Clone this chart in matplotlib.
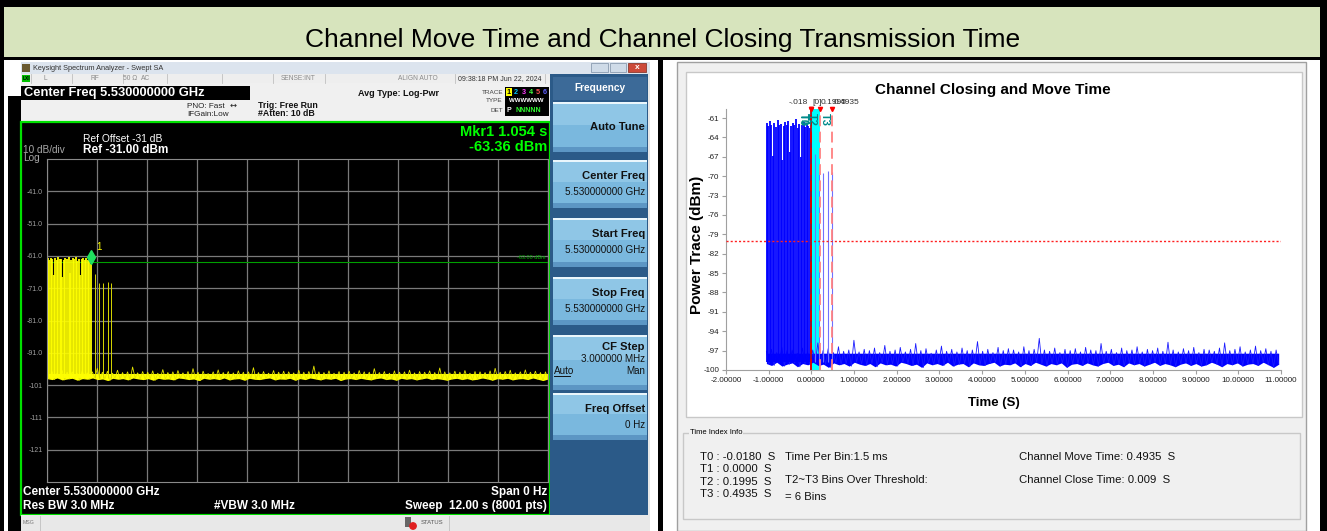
import numpy as np
import matplotlib
matplotlib.use("Agg")
import matplotlib.pyplot as plt
from matplotlib.patches import Rectangle, Circle
from matplotlib import transforms

W, H = 1327, 531
SANS = ['Liberation Sans', 'DejaVu Sans']

# ---------------- data (sweep time in s, level in dBm) ----------------
sweep_s = 12.0
t1_sweep = 1.054          # marker 1 / T1 position in analyzer sweep time
mkr_level = -63.36
display_line = -63.0
threshold = -80.0
floor_level = -98.8
core_top = -97.4          # upper edge of the solid part of the noise floor

pulse_t = [0.012, 0.048, 0.085, 0.118, 0.156, 0.190, 0.228, 0.262, 0.300, 0.335,
           0.371, 0.405, 0.442, 0.478, 0.515, 0.550, 0.586, 0.622, 0.657, 0.694,
           0.730, 0.765, 0.801, 0.838, 0.872, 0.909, 0.945, 0.980, 1.017, 1.050]
pulse_top = [-61.8, -62.3, -61.5, -62.0, -66.8, -61.7, -62.4, -61.3, -62.1, -61.9,
             -67.5, -62.2, -61.6, -62.0, -61.4, -66.3, -62.3, -61.8, -62.0, -61.2,
             -62.5, -61.9, -67.0, -62.1, -61.6, -62.4, -61.8, -62.2, -62.6, -63.4]
late_t = [1.15, 1.24, 1.33, 1.45, 1.54]
late_top = [-66.5, -69.3, -69.5, -69.2, -69.4]

noise_hi = [-97.1, -96.8, -97.3, -96.5, -97.0, -96.9, -97.4, -96.6, -97.2, -96.9,
            -95.8, -97.0, -96.7, -97.3, -96.4, -97.1, -96.9, -95.4, -97.2, -96.8,
            -97.0, -96.6, -97.3, -96.2, -97.1, -96.9, -96.5, -97.2, -96.8, -95.9,
            -97.0, -96.7, -97.4, -96.9, -96.3, -97.1, -96.8, -97.2, -96.6, -97.0,
            -96.9, -95.6, -97.1, -96.8, -97.3, -96.5, -97.0, -96.7, -96.9, -97.2,
            -96.4, -97.0, -96.8, -95.1, -96.9, -97.1, -96.6, -97.3, -96.8, -97.0,
            -96.7, -97.2, -96.5, -96.9, -97.0, -95.9, -97.1, -96.8, -97.3, -96.6,
            -97.0, -96.9, -96.4, -97.2, -96.8, -97.0, -96.6, -97.1, -95.7, -96.9,
            -97.2, -96.7, -97.0, -96.5, -97.3, -96.8, -96.9, -97.1, -96.6, -95.8,
            -97.0, -96.8, -96.4, -97.2, -96.9, -96.3, -97.0, -96.7, -97.1, -96.9]
noise_lo = [-99.0, -99.3, -98.8, -99.4, -99.1, -98.9, -99.5, -99.0, -99.2, -98.8,
            -99.3, -99.1, -99.6, -98.9, -99.2, -99.0, -99.4, -98.8, -99.1, -99.3,
            -99.0, -99.5, -98.9, -99.2, -99.1, -99.4, -98.8, -99.0, -99.3, -99.1,
            -99.6, -98.9, -99.2, -99.0, -99.3, -98.8, -99.4, -99.1, -99.0, -99.5,
            -98.9, -99.2, -99.3, -99.0, -98.8, -99.4, -99.1, -99.2, -98.9, -99.5,
            -99.0, -99.3, -98.8, -99.1, -99.4, -99.0, -99.2, -98.9, -99.6, -99.1,
            -99.0, -99.3, -98.9, -99.2, -99.4, -99.0, -98.8, -99.3, -99.1, -99.5,
            -98.9, -99.2, -99.0, -99.4, -99.1, -98.8, -99.3, -99.0, -99.2, -99.5,
            -99.1, -98.9, -99.3, -99.0, -99.4, -99.2, -98.8, -99.1, -99.5, -99.0,
            -99.2, -98.9, -99.4, -99.1, -99.0, -99.3, -98.8, -99.2, -99.6, -99.1]

t_names = ['T0', 'T1', 'T2', 'T3']
t_vals = [-0.018, 0.0, 0.1995, 0.4935]
t_tags = ['-.018', '[0]', '0.1995', '0.4935']

spa_yticks = [-41, -51, -61, -71, -81, -91, -101, -111, -121]
spa_ylabels = ['-41.0', '-51.0', '-61.0', '-71.0', '-81.0', '-91.0', '-101', '-111', '-121']
chart_yticks = list(range(-61, -101, -3))
chart_xticks = list(range(-2, 12))

softkeys = [('Auto Tune', ''), ('Center Freq', '5.530000000 GHz'),
            ('Start Freq', '5.530000000 GHz'), ('Stop Freq', '5.530000000 GHz'),
            ('CF Step', '3.000000 MHz'), ('Freq Offset', '0 Hz')]

info_t = ['T0 : -0.0180  S', 'T1 : 0.0000  S', 'T2 : 0.1995  S', 'T3 : 0.4935  S']
info_mid = ['Time Per Bin:1.5 ms', 'T2~T3 Bins Over Threshold:', '= 6 Bins']
info_right = ['Channel Move Time: 0.4935  S', 'Channel Close Time: 0.009  S']

noise_t = np.linspace(0, sweep_s, len(noise_hi))
noise_core = np.minimum(noise_hi, core_top)
# the trace swings between the upper and lower readings, sample by sample
trace_t = np.linspace(0, sweep_s, 2 * len(noise_hi))
trace_v = np.column_stack([noise_hi, noise_lo]).ravel()

# ---------------- figure + pixel-space background ----------------
fig = plt.figure(figsize=(W / 100, H / 100), dpi=100)
bg = fig.add_axes([0, 0, 1, 1])
bg.set_xlim(0, W)
bg.set_ylim(H, 0)
bg.axis('off')


def box(x0, y0, x1, y1, fc, ec='none', lw=0, z=1):
    bg.add_patch(Rectangle((x0, y0), x1 - x0, y1 - y0, facecolor=fc,
                           edgecolor=ec, linewidth=lw, zorder=z))


def put(x, y, s, size, color='black', weight='normal', ha='left', family=SANS, **kw):
    bg.text(x, y, s, fontsize=size, color=color, fontweight=weight, ha=ha,
            va='center', family=family, zorder=5, **kw)


def px_axes(x0, y0, x1, y1):
    return fig.add_axes([x0 / W, 1 - y1 / H, (x1 - x0) / W, (y1 - y0) / H])


def draw_trace(ax, dt, color, edge_color):
    ax.fill_between(noise_t - dt, noise_lo, noise_core, color=color, lw=0, zorder=2)
    ax.plot(trace_t - dt, trace_v, color=edge_color, lw=0.6, zorder=2)
    ax.vlines(np.array(pulse_t) - dt, floor_level, pulse_top, color=color, lw=1.3, zorder=2)


# table frame and header
box(0, 0, W, 7, 'black')
box(0, 0, 4, H, 'black')
box(1320, 0, W, H, 'black')
box(4, 7, 1320, 57, '#d7e4bd')
box(0, 57, W, 60, 'black')
box(658, 57, 663, H, 'black')
put(663, 40, 'Channel Move Time and Channel Closing Transmission Time', 19, ha='center')

# ---------------- left: analyzer screenshot ----------------
box(8, 96, 21, H, 'black')
box(21, 62, 650, 74, '#dce4ee')
box(22, 64, 30, 72, '#6a5a30')
put(33, 68, 'Keysight Spectrum Analyzer - Swept SA', 5.3, '#333333')
box(591, 63, 608, 72, '#cfdbe8', ec='#8a9bb0', lw=0.6)
box(610, 63, 626, 72, '#cfdbe8', ec='#8a9bb0', lw=0.6)
box(628, 63, 646, 72, '#cc4a3a', ec='#8a3a30', lw=0.6)
put(637, 67.5, 'x', 6, 'white', 'bold', ha='center')

box(21, 74, 550, 83, '#eeeeee')
for xs in [31, 72, 123, 167, 222, 273, 325, 455, 545]:
    bg.plot([xs, xs], [74, 83], color='#c0c0c0', lw=0.6, zorder=2)
box(22, 75, 30, 82, '#00c000')
put(26, 78.5, 'LXI', 3.5, 'black', 'bold', ha='center')
for s, xs in [('L', 45), ('RF', 95), ('50 Ω', 130), ('AC', 146),
              ('SENSE:INT', 298), ('ALIGN AUTO', 418)]:
    put(xs, 78.5, s, 4.8, '#8a8a8a', ha='center')
put(500, 78.5, '09:38:18 PM Jun 22, 2024', 5, '#333333', ha='center')

box(21, 83, 550, 122, '#f0f0f0')
box(21, 86, 250, 100, 'black')
put(24, 93, 'Center Freq 5.530000000 GHz', 9.3, 'white', 'bold')
put(187, 106, 'PNO: Fast', 5.9, '#222222')
put(230, 105.5, '↔', 6, '#222222', family=['DejaVu Sans'])
put(187, 114.5, 'IFGain:Low', 5.9, '#222222')
put(258, 105, 'Trig: Free Run', 6.3, '#111111', 'bold')
put(258, 114, '#Atten: 10 dB', 6.3, '#111111', 'bold')
put(358, 93, 'Avg Type: Log-Pwr', 6.5, '#111111', 'bold')
put(503, 92, 'TRACE', 4.6, '#444444', ha='right')
put(503, 101, 'TYPE', 4.6, '#444444', ha='right')
put(503, 110, 'DET', 4.6, '#444444', ha='right')
box(505, 87, 549, 116, 'black')
box(506, 88, 512, 96, '#ffff00')
for i, c in enumerate(['black', '#00c8ff', '#ff40ff', '#40ff40', '#ff5050', '#6060ff']):
    put(509 + i * 7.2, 92, str(i + 1), 5.2, c, 'bold', ha='center')
put(509, 101, 'WWWWWW', 4.4, 'white', 'bold')
put(509, 110, 'P', 5, 'white', 'bold', ha='center')
put(516, 110, 'NNNNN', 5, '#30ff30', 'bold')

# display panel
box(21, 122, 550, 515, 'black', ec='#00e000', lw=1.6)
put(83, 139, 'Ref Offset -31 dB', 7.4, 'white')
put(23, 150, '10 dB/div', 7.2, '#a8a8a8')
put(83, 150, 'Ref -31.00 dBm', 8.5, 'white', 'bold')
put(23, 158, 'Log', 7.2, '#a8a8a8')
put(547, 132, 'Mkr1 1.054 s', 10.5, '#00ff00', 'bold', ha='right')
put(547, 147, '-63.36 dBm', 10.5, '#00ff00', 'bold', ha='right')
put(23, 492, 'Center 5.530000000 GHz', 8.5, 'white', 'bold')
put(23, 506, 'Res BW 3.0 MHz', 8.5, 'white', 'bold')
put(214, 506, '#VBW 3.0 MHz', 8.5, 'white', 'bold')
put(547, 492, 'Span 0 Hz', 8.5, 'white', 'bold', ha='right')
put(547, 506, 'Sweep  12.00 s (8001 pts)', 8.5, 'white', 'bold', ha='right')

# softkeys
box(550, 74, 650, 515, '#2b5a88')
box(648, 74, 650, 515, '#e8e8e8')
box(553, 77, 647, 100, '#3c6a98')
put(600, 88, 'Frequency', 7.3, 'white', 'bold', ha='center')
key_rows = [(102, 152), (160, 208), (218, 267), (277, 325), (335, 390), (393, 440)]
for (title, val), (y0, y1) in zip(softkeys, key_rows):
    box(553, y0, 647, y1, '#7ab8de')
    box(553, y0 + 2, 647, y0 + (y1 - y0) * 0.45, '#8fc6e6')
    box(553, y0, 647, y0 + 2, '#eaf6fc')
    box(553, y1 - 5, 647, y1, '#5c96c4')
    if val == '':
        put(645, (y0 + y1) / 2, title, 8.1, '#111111', 'bold', ha='right')
    elif title == 'CF Step':
        put(645, y0 + 12, title, 8.1, '#111111', 'bold', ha='right')
        put(645, y0 + 24, val, 7.1, '#111111', ha='right')
        put(554, y0 + 36, 'Auto', 7.1, '#111111')
        bg.plot([554, 570], [y0 + 41, y0 + 41], color='#111111', lw=0.7, zorder=5)
        put(645, y0 + 36, 'Man', 7.1, '#111111', ha='right')
    else:
        put(645, y0 + 16, title, 8.1, '#111111', 'bold', ha='right')
        put(645, y0 + 32, val, 7.1, '#111111', ha='right')

# message bar
box(21, 515, 650, H, '#e8e8e8')
put(23, 523, 'MSG', 3.8, '#777777')
bg.plot([40, 40], [516, H], color='#c0c0c0', lw=0.6, zorder=2)
box(405, 517, 411, 527, '#666666')
bg.add_patch(Circle((413, 526), 3.2, color='#e02020', zorder=3))
put(421, 523, 'STATUS', 4.3, '#555555')
bg.plot([449, 449], [516, H], color='#c0c0c0', lw=0.6, zorder=2)

# graticule
ax1 = px_axes(47, 159, 548, 482)
ax1.set_facecolor('black')
ax1.set_xlim(0, sweep_s)
ax1.set_ylim(-131, -31)
ax1.set_xticks(np.arange(0, sweep_s + 0.01, sweep_s / 10))
ax1.set_xticklabels([])
ax1.set_yticks(spa_yticks)
ax1.set_yticklabels(spa_ylabels)
ax1.tick_params(length=0, labelsize=5, labelcolor='#a0a0a0', pad=3)
for lab in ax1.get_yticklabels():
    lab.set_family(SANS)
ax1.grid(True, color='#7a7a7a', lw=0.9)
for sp in ax1.spines.values():
    sp.set_color('#8a8a8a')
ax1.axhline(display_line, color='#00a000', lw=0.8)
ax1.text(0.995, display_line + 0.6, '-63.00 dBm',
         transform=transforms.blended_transform_factory(ax1.transAxes, ax1.transData),
         ha='right', va='bottom', fontsize=4, color='#00b000', family=SANS)
draw_trace(ax1, 0.0, '#ffff00', '#e6e600')
ax1.vlines(late_t, floor_level, late_top, color='#d8d800', lw=0.7)
mk = transforms.offset_copy(ax1.transData, fig, y=7, units='dots')
ax1.plot(t1_sweep, mkr_level, marker='d', ms=7, color='#20e060', transform=mk, clip_on=False)
ax1.text(t1_sweep, mkr_level, '1',
         transform=transforms.offset_copy(ax1.transData, fig, x=5, y=14, units='dots'),
         color='#ffff00', fontsize=7, family=SANS)

# ---------------- right: analysis window ----------------
box(677, 62, 1306, H, '#f0f0f0', ec='#a0a0a0', lw=1)
box(686, 72, 1302, 417, 'white', ec='#c8c8c8', lw=1)
box(683, 433, 1300, 519, 'none', ec='#c8c8c8', lw=1, z=2)
bg.text(690, 433, 'Time Index Info', fontsize=5.5, family=SANS, va='center', zorder=5,
        bbox=dict(facecolor='#f0f0f0', edgecolor='none', pad=0.5))

put(993, 90, 'Channel Closing and Move Time', 11, 'black', 'bold', ha='center')
put(697, 245, 'Power Trace (dBm)', 11, 'black', 'bold', ha='center', rotation=90)
put(994, 403, 'Time (S)', 9.5, 'black', 'bold', ha='center')

for i, s in enumerate(info_t):
    put(700, 457 + i * 12.3, s, 8.2, '#111111')
for s, yy in zip(info_mid, [457, 480, 497]):
    put(785, yy, s, 8.2, '#111111')
for s, yy in zip(info_right, [457, 480]):
    put(1019, yy, s, 8.2, '#111111')

ax2 = px_axes(726, 109, 1281, 370)
ax2.set_xlim(-2, 11)
ax2.set_ylim(-100, -59.6)
ax2.set_xticks(chart_xticks)
ax2.set_xticklabels([f'{v:.5f}' for v in chart_xticks])
ax2.set_yticks(chart_yticks)
ax2.set_yticklabels([str(v) for v in chart_yticks])
ax2.tick_params(labelsize=5.8, length=3, color='#a0a0a0', labelcolor='#202020', pad=2)
for lab in ax2.get_xticklabels() + ax2.get_yticklabels():
    lab.set_family(SANS)
for side in ['top', 'right']:
    ax2.spines[side].set_visible(False)
for side in ['left', 'bottom']:
    ax2.spines[side].set_color('#a0a0a0')

ax2.axvspan(t_vals[1], t_vals[2], color='#00ffff', lw=0, zorder=1)
draw_trace(ax2, t1_sweep, '#0000ff', '#1a1aff')
ax2.vlines(np.array(late_t) - t1_sweep, floor_level, late_top, color='#7070ff', lw=0.8, zorder=2)
ax2.axhline(threshold, color='#ff2020', ls=(0, (1.5, 1.5)), lw=1.0, zorder=3)

line_styles = [('#b01020', '-'), ('#e00000', (0, (6, 3))), ('#ff8080', (0, (6, 3))),
               ('#ff8080', (0, (6, 3)))]
xt = ax2.get_xaxis_transform()
for tv, (c, ls) in zip(t_vals, line_styles):
    ax2.axvline(tv, color=c, ls=ls, lw=1.3, zorder=4)
ax2.plot(t_vals, [1] * 4, 'v', color='#ff0000', ms=3, transform=xt, clip_on=False, zorder=5)
for k, (tv, tag, name) in enumerate(zip(t_vals, t_tags, t_names)):
    up = transforms.offset_copy(xt, fig, x=(-3 if k == 0 else 1), y=7, units='dots')
    ax2.text(tv, 1, tag, transform=up, ha=('right' if k == 0 else 'left'), va='center',
             fontsize=6, color='#303030', family=SANS, clip_on=False)
    dn = transforms.offset_copy(xt, fig, x=-3, y=-4, units='dots')
    ax2.text(tv, 1, name, transform=dn, ha='right', va='top', rotation=-90,
             fontsize=8, color='#008b8b', fontweight='bold', family=SANS, clip_on=False, zorder=6)

fig.savefig('out.png', dpi=100)
